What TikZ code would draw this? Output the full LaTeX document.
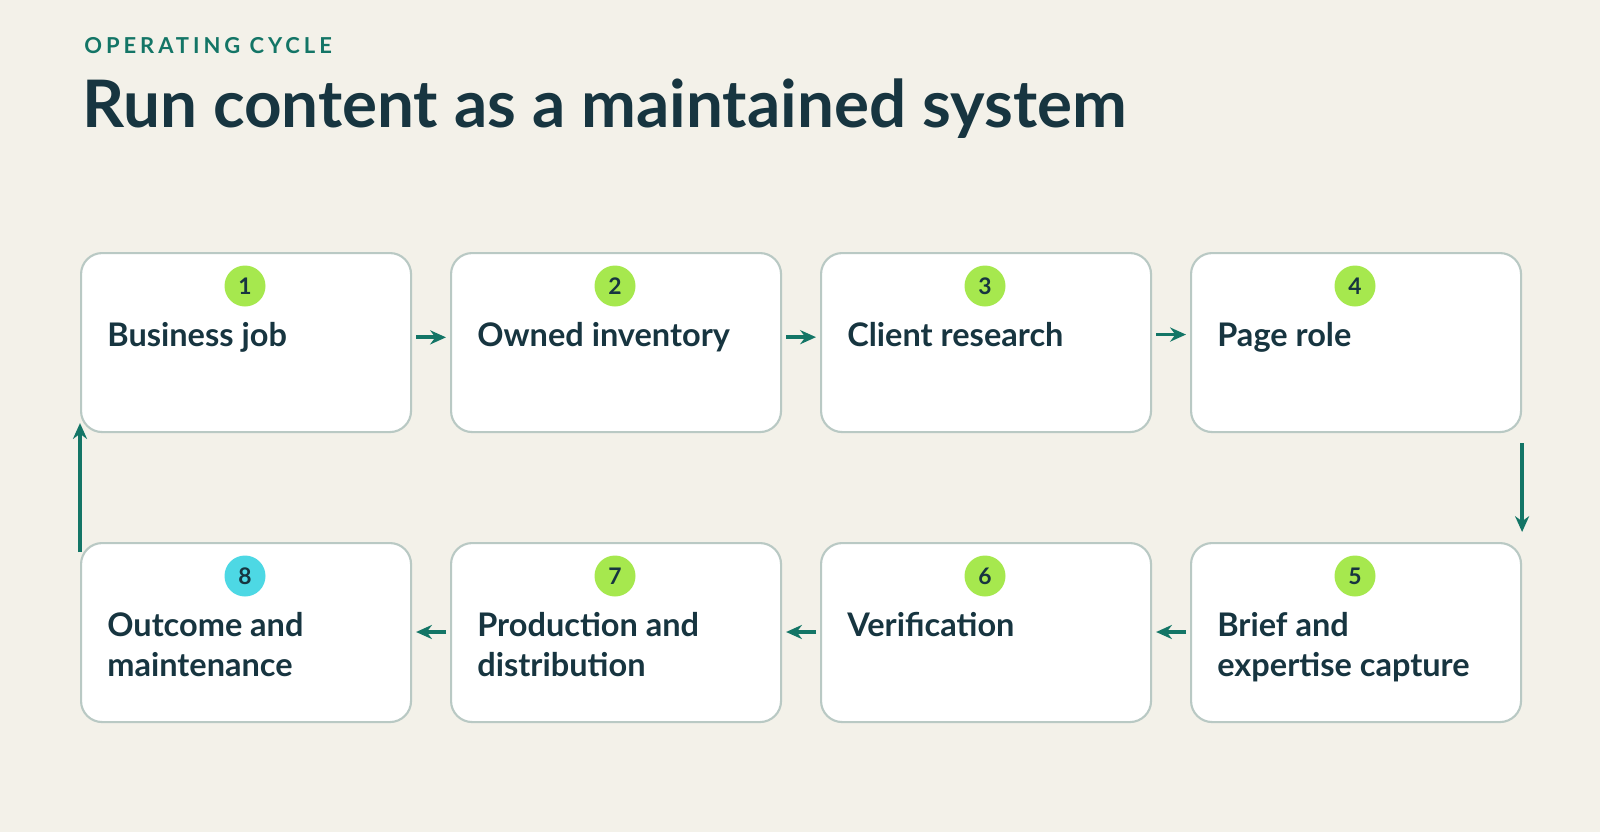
\documentclass[tikz,border=0pt]{standalone}
\usepackage{fontspec}
\setmainfont{Lato}
\usetikzlibrary{arrows.meta}
\definecolor{bg}{HTML}{F3F1E9}
\definecolor{bd}{HTML}{B9C9C4}
\definecolor{ink}{HTML}{173540}
\definecolor{lime}{HTML}{A6E84E}
\definecolor{cyanb}{HTML}{4DD8E4}
\definecolor{teal}{HTML}{137566}
\begin{document}
\begin{tikzpicture}[x=0.02cm,y=-0.02cm,
 box/.style={draw=bd,line width=1.2pt,fill=white,rounded corners=12pt,minimum width=330*0.02cm,minimum height=179*0.02cm,inner sep=0},
 badge/.style={circle,fill=#1,minimum size=41*0.02cm,inner sep=0,font=\bfseries\fontsize{13}{13}\selectfont,text=ink},
 lbl/.style={anchor=north west,align=left,font=\bfseries\fontsize{18.5}{22.5}\selectfont,text=ink,inner sep=0},
 arr/.style={draw=teal,line width=2.2pt,-{Stealth[length=9pt,width=8pt]}}]
\fill[bg] (0,0) rectangle (1600,832);
\useasboundingbox (0,0) rectangle (1600,832);
\node[anchor=base west,inner sep=0,text=teal,font=\bfseries\fontsize{12.5}{14}\selectfont] (kick) at (84,53) {\addfontfeature{LetterSpace=18}OPERATING CYCLE};
\node[anchor=base west,inner sep=0,text=ink,font=\bfseries\fontsize{37.3}{44}\selectfont] (title) at (82,127) {Run content as a maintained system};
\foreach \i/\x/\y/\c/\t in {1/80/252/lime/Business job,2/450/252/lime/Owned inventory,3/820/252/lime/Client research,4/1190/252/lime/Page role,
 8/80/542/cyanb/{Outcome and\\maintenance},7/450/542/lime/{Production and\\distribution},6/820/542/lime/Verification,5/1190/542/lime/{Brief and\\expertise capture}}{
 \node[box,anchor=north west] (b\i) at (\x,\y) {};
 \node[badge=\c] (n\i) at (\x+165,\y+34) {\i};
 \node[lbl] (t\i) at (\x+27,\y+70) {\t};
}
\draw[arr] ([xshift=4*0.02cm]b1.east|-t1.center) -- ([xshift=-4*0.02cm]b2.west|-t1.center);
\draw[arr] ([xshift=4*0.02cm]b2.east|-t2.center) -- ([xshift=-4*0.02cm]b3.west|-t2.center);
\draw[arr] ([xshift=4*0.02cm]b3.east|-t3.center) -- ([xshift=-4*0.02cm]b4.west|-t3.center);
\draw[arr] ([yshift=-10*0.02cm]b4.south east) -- ([yshift=10*0.02cm]b5.north east);
\coordinate (r1) at (b5.west|-t5.north); \coordinate (r) at ([yshift=-20*0.02cm]r1);
\draw[arr] ([xshift=-4*0.02cm]b5.west|-r) -- ([xshift=4*0.02cm]b6.east|-r);
\draw[arr] ([xshift=-4*0.02cm]b6.west|-r) -- ([xshift=4*0.02cm]b7.east|-r);
\draw[arr] ([xshift=-4*0.02cm]b7.west|-r) -- ([xshift=4*0.02cm]b8.east|-r);
\draw[arr] ([yshift=-10*0.02cm]b8.north west) -- ([yshift=10*0.02cm]b1.south west);
\end{tikzpicture}
\end{document}
